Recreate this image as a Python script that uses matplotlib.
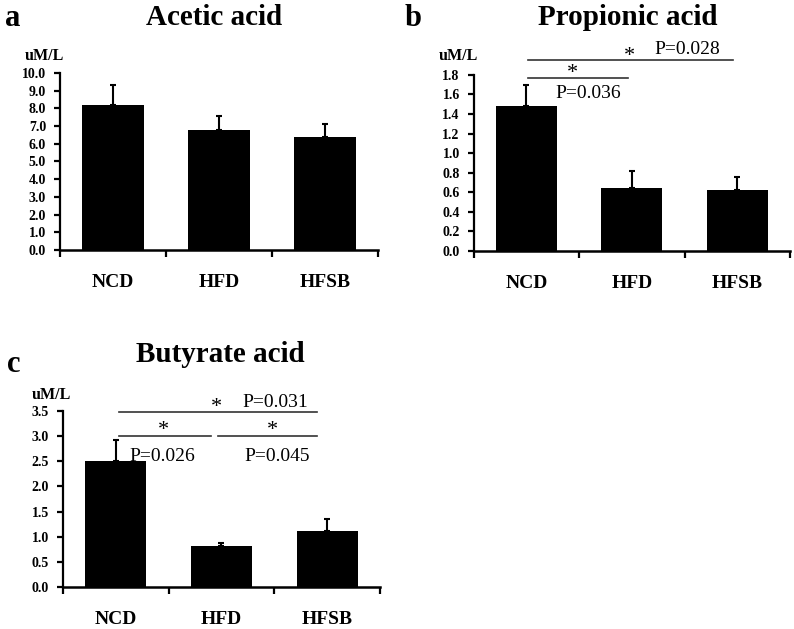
import matplotlib.pyplot as plt

plt.rcParams['font.family'] = ['Liberation Serif', 'DejaVu Serif']

groups = ['NCD', 'HFD', 'HFSB']

acetic = [8.2, 6.8, 6.4]
acetic_err = [1.1, 0.75, 0.7]

propionic = [1.48, 0.64, 0.62]
propionic_err = [0.22, 0.18, 0.14]

butyrate = [2.5, 0.82, 1.12]
butyrate_err = [0.42, 0.06, 0.24]

fig = plt.figure(figsize=(7.94, 6.29), dpi=100, facecolor='w')


def bar_panel(rect, vals, errs, ymax, step, fmt):
    ax = fig.add_axes(rect)
    x = [0.5, 1.5, 2.5]
    ax.bar(x, vals, width=0.58, color='black', zorder=2)
    ax.errorbar(x, vals, yerr=[[0, 0, 0], errs], fmt='none', ecolor='black',
                elinewidth=1.5, capsize=2.5, capthick=1.5, zorder=1)
    ax.set_xlim(0, 3)
    ax.set_ylim(0, ymax)
    ticks = [i * step for i in range(int(round(ymax / step)) + 1)]
    ax.set_yticks(ticks)
    ax.set_yticklabels([fmt.format(t) for t in ticks], fontsize=10, fontweight='bold')
    ax.set_xticks([0, 1, 2, 3])
    ax.set_xticklabels([])
    ax.set_xticks(x, minor=True)
    ax.set_xticklabels(groups, minor=True, fontsize=14, fontweight='bold')
    ax.tick_params(axis='x', which='minor', length=0, pad=17.5)
    ax.tick_params(axis='x', which='major', length=5, width=1.6, direction='out')
    ax.tick_params(axis='y', length=4, width=1.6, direction='out', pad=6)
    for s in ('top', 'right'):
        ax.spines[s].set_visible(False)
    ax.spines['left'].set_linewidth(1.6)
    ax.spines['bottom'].set_linewidth(1.8)
    return ax


def sig(ax, x0, x1, y, star_x, star_y):
    ax.plot([x0, x1], [y, y], color='#333333', lw=1.2, clip_on=False)
    ax.text(star_x, star_y, '*', ha='center', va='center', fontsize=16, clip_on=False)


# panel a
axa = bar_panel([0.0756, 0.6025, 0.4004, 0.2815], acetic, acetic_err, 10.0, 1.0, '{:.1f}')
fig.text(0.27, 0.972, 'Acetic acid', ha='center', va='center', fontsize=21, fontweight='bold')
fig.text(0.006, 0.97, 'a', ha='left', va='center', fontsize=22, fontweight='bold')
fig.text(0.031, 0.911, 'uM/L', ha='left', va='center', fontsize=11.5, fontweight='bold')

# panel b
axb = bar_panel([0.5965, 0.601, 0.3985, 0.280], propionic, propionic_err, 1.8, 0.2, '{:.1f}')
fig.text(0.79, 0.972, 'Propionic acid', ha='center', va='center', fontsize=21, fontweight='bold')
fig.text(0.51, 0.97, 'b', ha='left', va='center', fontsize=22, fontweight='bold')
fig.text(0.553, 0.911, 'uM/L', ha='left', va='center', fontsize=11.5, fontweight='bold')
sig(axb, 0.52, 1.46, 1.77, 0.94, 1.81)
axb.text(0.78, 1.61, 'P=0.036', ha='left', va='center', fontsize=14)
sig(axb, 0.52, 2.46, 1.95, 1.48, 1.99)
axb.text(1.71, 2.06, 'P=0.028', ha='left', va='center', fontsize=14)

# panel c
axc = bar_panel([0.0793, 0.0668, 0.3993, 0.2798], butyrate, butyrate_err, 3.5, 0.5, '{:.1f}')
fig.text(0.277, 0.436, 'Butyrate acid', ha='center', va='center', fontsize=21, fontweight='bold')
fig.text(0.009, 0.42, 'c', ha='left', va='center', fontsize=22, fontweight='bold')
fig.text(0.04, 0.372, 'uM/L', ha='left', va='center', fontsize=11.5, fontweight='bold')
sig(axc, 0.53, 2.4, 3.47, 1.45, 3.57)
axc.text(1.7, 3.67, 'P=0.031', ha='left', va='center', fontsize=14)
sig(axc, 0.53, 1.4, 3.0, 0.95, 3.12)
sig(axc, 1.47, 2.4, 3.0, 1.98, 3.12)
axc.text(0.63, 2.6, 'P=0.026', ha='left', va='center', fontsize=14)
axc.text(1.72, 2.6, 'P=0.045', ha='left', va='center', fontsize=14)

fig.savefig('out.png', dpi=100)
